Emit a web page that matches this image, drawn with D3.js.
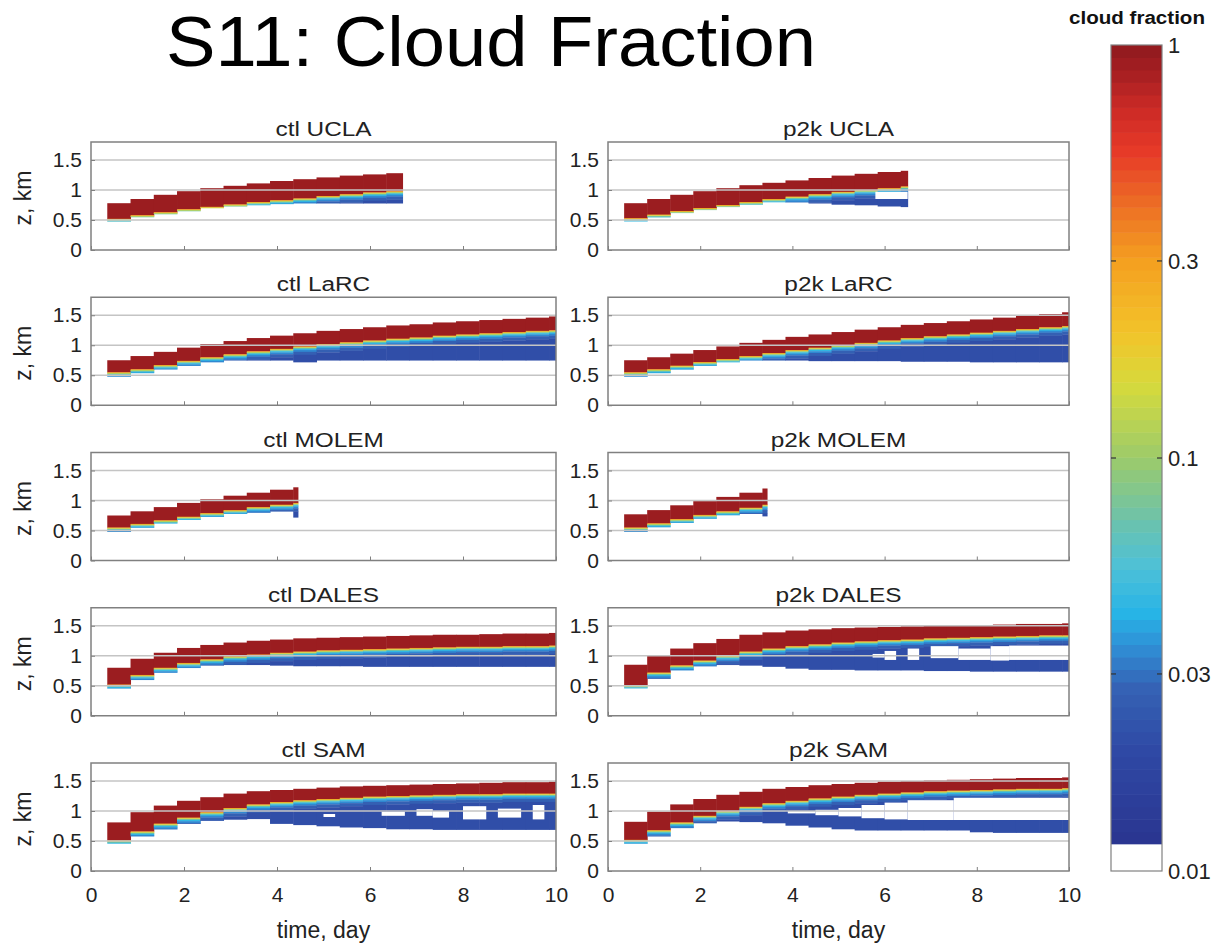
<!DOCTYPE html>
<html>
<head>
<meta charset="utf-8">
<script src="https://cdn.jsdelivr.net/npm/d3@7"></script>
<style>
  body { margin: 0; background: #fff; }
  svg { display: block; font-family: "Liberation Sans", Arial, sans-serif; }
</style>
</head>
<body>
<svg id="chart" width="1223" height="945"></svg>
<script>
// ---- data ----
var panelNames = ["ctl UCLA", "p2k UCLA", "ctl LaRC", "p2k LaRC", "ctl MOLEM",
                  "p2k MOLEM", "ctl DALES", "p2k DALES", "ctl SAM", "p2k SAM"];
var runEnd = [6.7, 6.5, 10, 10, 4.45, 3.45, 10, 10, 10, 10];   // last day of each run
var colStart = [0.35, 0.85, 1.35, 1.85, 2.35, 2.85, 3.35, 3.85, 4.35, 4.85,
                5.35, 5.85, 6.35, 6.85, 7.35, 7.85, 8.35, 8.85, 9.35, 9.85];
var dayTicks = [0, 2, 4, 6, 8, 10];
var zTicks = [0, 0.5, 1, 1.5];
var cbTicks = [0.01, 0.03, 0.1, 0.3, 1];

// cloud top, base of the saturated (red) layer, lowest cloud (km) for each column
var ctlUclaTop  = [0.78, 0.85, 0.92, 0.98, 1.03, 1.07, 1.11, 1.15, 1.18, 1.21, 1.24, 1.26, 1.28];
var ctlUclaRed  = [0.52, 0.58, 0.63, 0.68, 0.72, 0.76, 0.80, 0.83, 0.86, 0.90, 0.93, 0.96, 0.98];
var ctlUclaBase = [0.48, 0.55, 0.60, 0.65, 0.70, 0.73, 0.75, 0.77, 0.78, 0.78, 0.78, 0.78, 0.78];

var p2kUclaTop  = [0.78, 0.85, 0.92, 0.98, 1.03, 1.08, 1.12, 1.16, 1.20, 1.24, 1.27, 1.30, 1.32];
var p2kUclaRed  = [0.53, 0.59, 0.65, 0.70, 0.75, 0.80, 0.85, 0.89, 0.93, 0.97, 1.00, 1.03, 1.06];
var p2kUclaBase = [0.48, 0.55, 0.62, 0.67, 0.72, 0.76, 0.80, 0.80, 0.78, 0.76, 0.75, 0.73, 0.72];

var ctlLarcTop  = [0.75, 0.82, 0.89, 0.96, 1.02, 1.07, 1.12, 1.16, 1.20, 1.24, 1.27, 1.30, 1.33, 1.35, 1.38, 1.40, 1.42, 1.44, 1.46, 1.48];
var ctlLarcRed  = [0.55, 0.60, 0.67, 0.74, 0.80, 0.85, 0.90, 0.94, 0.98, 1.02, 1.05, 1.08, 1.11, 1.13, 1.16, 1.18, 1.20, 1.22, 1.24, 1.25];
var ctlLarcBase = [0.48, 0.54, 0.60, 0.66, 0.72, 0.75, 0.75, 0.75, 0.72, 0.75, 0.75, 0.75, 0.75, 0.75, 0.75, 0.75, 0.75, 0.75, 0.75, 0.75];

var p2kLarcTop  = [0.75, 0.80, 0.86, 0.92, 0.98, 1.04, 1.09, 1.14, 1.18, 1.22, 1.26, 1.30, 1.34, 1.37, 1.40, 1.43, 1.46, 1.49, 1.52, 1.55];
var p2kLarcRed  = [0.55, 0.60, 0.66, 0.72, 0.77, 0.82, 0.87, 0.92, 0.96, 1.00, 1.04, 1.08, 1.12, 1.15, 1.18, 1.21, 1.24, 1.27, 1.30, 1.32];
var p2kLarcBase = [0.48, 0.54, 0.60, 0.66, 0.72, 0.75, 0.75, 0.75, 0.74, 0.74, 0.74, 0.74, 0.73, 0.73, 0.73, 0.72, 0.72, 0.72, 0.72, 0.72];

var ctlMolemTop  = [0.75, 0.82, 0.89, 0.96, 1.02, 1.08, 1.13, 1.18, 1.22];
var ctlMolemRed  = [0.55, 0.61, 0.67, 0.73, 0.79, 0.84, 0.89, 0.93, 0.96];
var ctlMolemBase = [0.48, 0.55, 0.62, 0.68, 0.73, 0.78, 0.80, 0.82, 0.72];

var p2kMolemTop  = [0.77, 0.84, 0.92, 0.99, 1.06, 1.13, 1.20];
var p2kMolemRed  = [0.55, 0.62, 0.69, 0.76, 0.82, 0.88, 0.93];
var p2kMolemBase = [0.48, 0.56, 0.63, 0.70, 0.76, 0.78, 0.74];

var ctlDalesTop  = [0.80, 0.95, 1.05, 1.13, 1.18, 1.22, 1.25, 1.27, 1.29, 1.30, 1.31, 1.32, 1.33, 1.34, 1.35, 1.35, 1.36, 1.37, 1.37, 1.38];
var ctlDalesRed  = [0.52, 0.68, 0.80, 0.88, 0.94, 0.99, 1.02, 1.05, 1.07, 1.09, 1.10, 1.11, 1.12, 1.13, 1.14, 1.15, 1.15, 1.16, 1.16, 1.17];
var ctlDalesBase = [0.46, 0.60, 0.72, 0.80, 0.84, 0.85, 0.85, 0.84, 0.83, 0.83, 0.83, 0.82, 0.82, 0.82, 0.82, 0.82, 0.82, 0.82, 0.82, 0.82];

var p2kDalesTop  = [0.85, 1.00, 1.12, 1.21, 1.28, 1.35, 1.39, 1.42, 1.44, 1.46, 1.47, 1.48, 1.49, 1.50, 1.51, 1.51, 1.52, 1.53, 1.53, 1.54];
var p2kDalesRed  = [0.51, 0.72, 0.84, 0.92, 1.00, 1.07, 1.12, 1.16, 1.19, 1.22, 1.24, 1.26, 1.27, 1.29, 1.30, 1.31, 1.32, 1.33, 1.34, 1.34];
var p2kDalesBase = [0.46, 0.62, 0.76, 0.83, 0.85, 0.84, 0.82, 0.79, 0.77, 0.77, 0.76, 0.76, 0.76, 0.75, 0.75, 0.74, 0.74, 0.74, 0.74, 0.74];

var ctlSamTop  = [0.81, 0.98, 1.09, 1.17, 1.23, 1.29, 1.33, 1.35, 1.37, 1.39, 1.41, 1.42, 1.43, 1.44, 1.45, 1.46, 1.47, 1.48, 1.48, 1.49];
var ctlSamRed  = [0.51, 0.66, 0.79, 0.89, 0.98, 1.05, 1.11, 1.15, 1.18, 1.20, 1.22, 1.24, 1.25, 1.26, 1.27, 1.28, 1.28, 1.29, 1.29, 1.29];
var ctlSamBase = [0.46, 0.58, 0.70, 0.79, 0.84, 0.86, 0.87, 0.79, 0.77, 0.75, 0.73, 0.72, 0.70, 0.70, 0.69, 0.69, 0.69, 0.69, 0.69, 0.69];

var p2kSamTop  = [0.82, 0.99, 1.11, 1.20, 1.27, 1.32, 1.37, 1.40, 1.43, 1.45, 1.47, 1.49, 1.50, 1.51, 1.52, 1.53, 1.54, 1.55, 1.55, 1.56];
var p2kSamRed  = [0.52, 0.68, 0.81, 0.92, 1.00, 1.07, 1.13, 1.17, 1.21, 1.24, 1.27, 1.29, 1.31, 1.33, 1.34, 1.35, 1.36, 1.37, 1.37, 1.38];
var p2kSamBase = [0.46, 0.58, 0.72, 0.80, 0.83, 0.82, 0.80, 0.76, 0.73, 0.70, 0.68, 0.68, 0.68, 0.68, 0.68, 0.65, 0.64, 0.64, 0.64, 0.64];

// cloud-free holes inside the thin layer: [day from, day to, z from, z to]
var p2kUclaGaps = [[5.8, 6.5, 0.85, 0.97]];
var p2kDalesGaps = [[5.74, 6.0, 0.97, 1.03], [6.0, 6.25, 0.93, 1.08], [6.5, 6.75, 0.93, 1.12],
                    [7.0, 7.6, 0.96, 1.16], [7.6, 8.3, 0.93, 1.12], [8.3, 8.7, 0.92, 1.16], [8.7, 10, 0.93, 1.17]];
var ctlSamGaps = [[5.0, 5.25, 0.90, 0.95], [6.25, 6.75, 0.92, 0.99], [7.0, 7.35, 0.92, 1.03], [7.35, 7.7, 0.89, 1.0],
                  [8.0, 8.5, 0.86, 1.08], [8.75, 9.25, 0.89, 1.04], [9.5, 9.75, 0.86, 1.1]];
var p2kSamGaps = [[3.9, 4.5, 0.96, 1.0], [4.5, 5.0, 0.93, 1.02], [5.0, 5.5, 0.91, 1.05], [5.5, 6.0, 0.88, 1.10],
                  [6.0, 6.5, 0.86, 1.14], [6.5, 7.5, 0.85, 1.18], [7.5, 10, 0.85, 1.22]];

// cloud fraction of each layer
var redFrac = 0.92;
var edgeFrac = [0.3, 0.14, 0.075, 0.045, 0.034, 0.027];   // transition just under the saturated layer
var edgeDz = [0.012, 0.012, 0.015, 0.02, 0.03, 0.05];
var blueFrac = 0.021;

// colour map (log cloud fraction)
var cmapVals = [0.0116, 0.02, 0.028, 0.035, 0.042, 0.055, 0.07, 0.1, 0.15, 0.2, 0.3, 0.42, 0.55, 0.7, 0.85, 1];
var cmapCols = ["#2a3590", "#2f4aa6", "#3563b5", "#2f8fd6", "#27b4e6", "#4fc1d6", "#6bc2ad", "#9ccb6a",
                "#d6da3c", "#f2c42a", "#f4a020", "#ec6a25", "#e73a28", "#cc2a26", "#a81f22", "#8e1a1e"];

var panels = [
  {top: ctlUclaTop, red: ctlUclaRed, base: ctlUclaBase, gaps: []},
  {top: p2kUclaTop, red: p2kUclaRed, base: p2kUclaBase, gaps: p2kUclaGaps},
  {top: ctlLarcTop, red: ctlLarcRed, base: ctlLarcBase, gaps: []},
  {top: p2kLarcTop, red: p2kLarcRed, base: p2kLarcBase, gaps: []},
  {top: ctlMolemTop, red: ctlMolemRed, base: ctlMolemBase, gaps: []},
  {top: p2kMolemTop, red: p2kMolemRed, base: p2kMolemBase, gaps: []},
  {top: ctlDalesTop, red: ctlDalesRed, base: ctlDalesBase, gaps: []},
  {top: p2kDalesTop, red: p2kDalesRed, base: p2kDalesBase, gaps: p2kDalesGaps},
  {top: ctlSamTop, red: ctlSamRed, base: ctlSamBase, gaps: ctlSamGaps},
  {top: p2kSamTop, red: p2kSamRed, base: p2kSamBase, gaps: p2kSamGaps}
];

// ---- layout ----
var svg = d3.select("#chart");
var colX = [[91, 556], [608, 1069]];
var rowTop0 = 142, rowStep = 155.25, panelH = 108;
var gridCol = "#c4c4c4", boxCol = "#808080", textCol = "#222";

var color = d3.scaleLog().domain(cmapVals).range(cmapCols).interpolate(d3.interpolateRgb).clamp(true);

svg.append("text")
  .attr("x", 491).attr("y", 66)
  .attr("text-anchor", "middle")
  .attr("textLength", 650).attr("lengthAdjust", "spacingAndGlyphs")
  .style("font-size", "71px")
  .style("fill", "#000")
  .text("S11: Cloud Fraction");

panels.forEach(function(p, i) {
  var r = Math.floor(i / 2), c = i % 2;
  var top = rowTop0 + r * rowStep;
  var x = d3.scaleLinear().domain([0, 10]).range(colX[c]);
  var y = d3.scaleLinear().domain([0, 1.8]).range([top + panelH, top]);
  var end = runEnd[i];

  var g = svg.append("g");
  g.append("clipPath").attr("id", "clip" + i)
    .append("rect").attr("x", colX[c][0]).attr("y", top)
    .attr("width", colX[c][1] - colX[c][0]).attr("height", panelH);

  // cells of each time column
  var cells = [];
  p.top.forEach(function(zt, k) {
    var t0 = colStart[k];
    var t1 = Math.min(k + 1 < colStart.length ? colStart[k + 1] : 10, end);
    var zr = p.red[k], zb = p.base[k];
    cells.push({t0: t0, t1: t1, z0: zr, z1: zt, f: redFrac});
    var zc = zr;
    edgeFrac.forEach(function(f, j) {
      var lo = Math.max(zb, zc - edgeDz[j]);
      if (lo < zc) cells.push({t0: t0, t1: t1, z0: lo, z1: zc, f: f});
      zc = lo;
    });
    if (zc > zb) cells.push({t0: t0, t1: t1, z0: zb, z1: zc, f: blueFrac});
  });

  var data = g.append("g").attr("clip-path", "url(#clip" + i + ")");
  data.selectAll("rect.cell")
    .data(cells)
    .enter().append("rect")
    .attr("class", "cell")
    .attr("x", function(d) { return x(d.t0); })
    .attr("width", function(d) { return x(d.t1) - x(d.t0) + 0.5; })
    .attr("y", function(d) { return y(d.z1); })
    .attr("height", function(d) { return y(d.z0) - y(d.z1) + 0.3; })
    .attr("fill", function(d) { return color(d.f); });

  data.selectAll("rect.gap")
    .data(p.gaps)
    .enter().append("rect")
    .attr("class", "gap")
    .attr("x", function(d) { return x(d[0]); })
    .attr("width", function(d) { return x(d[1]) - x(d[0]); })
    .attr("y", function(d) { return y(d[3]); })
    .attr("height", function(d) { return y(d[2]) - y(d[3]); })
    .attr("fill", "#fff");

  // grid lines on top of the image (matlab style)
  g.selectAll("line.grid")
    .data(zTicks.filter(function(v) { return v > 0; }))
    .enter().append("line")
    .attr("x1", colX[c][0]).attr("x2", colX[c][1])
    .attr("y1", function(d) { return y(d); }).attr("y2", function(d) { return y(d); })
    .attr("stroke", gridCol).attr("stroke-width", 1.4);

  // axes
  var ya = g.append("g")
    .attr("transform", "translate(" + colX[c][0] + ",0)")
    .call(d3.axisLeft(y).tickValues(zTicks).tickSizeInner(-4).tickSizeOuter(0).tickPadding(9).tickFormat(d3.format("")));
  ya.select(".domain").remove();
  ya.selectAll("line").attr("stroke", boxCol);
  ya.selectAll("text").style("font-size", "21px").style("fill", textCol).style("font-family", "Liberation Sans, Arial, sans-serif");

  var xa = g.append("g")
    .attr("transform", "translate(0," + (top + panelH) + ")")
    .call(d3.axisBottom(x).tickValues(dayTicks).tickSizeInner(-4).tickSizeOuter(0).tickPadding(16)
      .tickFormat(r === 4 ? d3.format("d") : function() { return ""; }));
  xa.select(".domain").remove();
  xa.selectAll("line").attr("stroke", boxCol);
  xa.selectAll("text").style("font-size", "21px").style("fill", textCol).style("font-family", "Liberation Sans, Arial, sans-serif");

  g.append("rect")
    .attr("x", colX[c][0]).attr("y", top)
    .attr("width", colX[c][1] - colX[c][0]).attr("height", panelH)
    .attr("fill", "none").attr("stroke", boxCol).attr("stroke-width", 1.5);

  // panel title
  g.append("text")
    .attr("transform", "translate(" + ((colX[c][0] + colX[c][1]) / 2) + "," + (top - 6) + ") scale(1.25,1)")
    .attr("text-anchor", "middle")
    .style("font-size", "19.5px").style("fill", textCol)
    .text(panelNames[i]);

  if (c === 0) {
    g.append("text")
      .attr("transform", "translate(31," + (top + panelH / 2 + 2) + ") rotate(-90)")
      .attr("text-anchor", "middle")
      .style("font-size", "23px").style("fill", textCol)
      .text("z, km");
  }
  if (r === 4) {
    g.append("text")
      .attr("x", (colX[c][0] + colX[c][1]) / 2).attr("y", 938)
      .attr("text-anchor", "middle")
      .style("font-size", "23px").style("fill", textCol)
      .text("time, day");
  }
});

// ---- colour bar ----
var cbX = 1111, cbW = 51;
var cbY = d3.scaleLog().domain([0.01, 1]).range([871, 45]);
var cbSteps = d3.range(0, 64).map(function(k) { return Math.pow(10, Math.log10(cmapVals[0]) * (1 - k / 64)); });
var cb = svg.append("g");
cb.selectAll("rect.step")
  .data(cbSteps)
  .enter().append("rect")
  .attr("x", cbX).attr("width", cbW)
  .attr("y", function(d, k) { return cbY(k < 63 ? cbSteps[k + 1] : 1); })
  .attr("height", function(d, k) { return cbY(d) - cbY(k < 63 ? cbSteps[k + 1] : 1) + 0.5; })
  .attr("fill", function(d, k) { return color(Math.sqrt(d * (k < 63 ? cbSteps[k + 1] : 1))); });
cb.append("rect")
  .attr("x", cbX).attr("y", cbY(cmapVals[0])).attr("width", cbW)
  .attr("height", cbY(0.01) - cbY(cmapVals[0]))
  .attr("fill", "#fff");
cb.append("rect")
  .attr("x", cbX).attr("y", cbY(1)).attr("width", cbW).attr("height", cbY(0.01) - cbY(1))
  .attr("fill", "none").attr("stroke", boxCol).attr("stroke-width", 1.2);
var inner = cbTicks.filter(function(v) { return v > 0.01 && v < 1; });
cb.selectAll("line.tl").data(inner).enter().append("line")
  .attr("x1", cbX).attr("x2", cbX + 5)
  .attr("y1", function(d) { return cbY(d); }).attr("y2", function(d) { return cbY(d); })
  .attr("stroke", "#333").attr("stroke-width", 1.2);
cb.selectAll("line.tr").data(inner).enter().append("line")
  .attr("x1", cbX + cbW - 5).attr("x2", cbX + cbW)
  .attr("y1", function(d) { return cbY(d); }).attr("y2", function(d) { return cbY(d); })
  .attr("stroke", "#333").attr("stroke-width", 1.2);
cb.selectAll("text.cbl").data(cbTicks).enter().append("text")
  .attr("x", cbX + cbW + 6)
  .attr("y", function(d) { return cbY(d); })
  .attr("dy", "0.35em")
  .style("font-size", "22px").style("fill", textCol)
  .text(function(d) { return String(d); });
svg.append("text")
  .attr("x", 1137).attr("y", 24)
  .attr("text-anchor", "middle")
  .attr("textLength", 136).attr("lengthAdjust", "spacingAndGlyphs")
  .style("font-size", "18px").style("font-weight", "bold").style("fill", "#111")
  .text("cloud fraction");
</script>
</body>
</html>
